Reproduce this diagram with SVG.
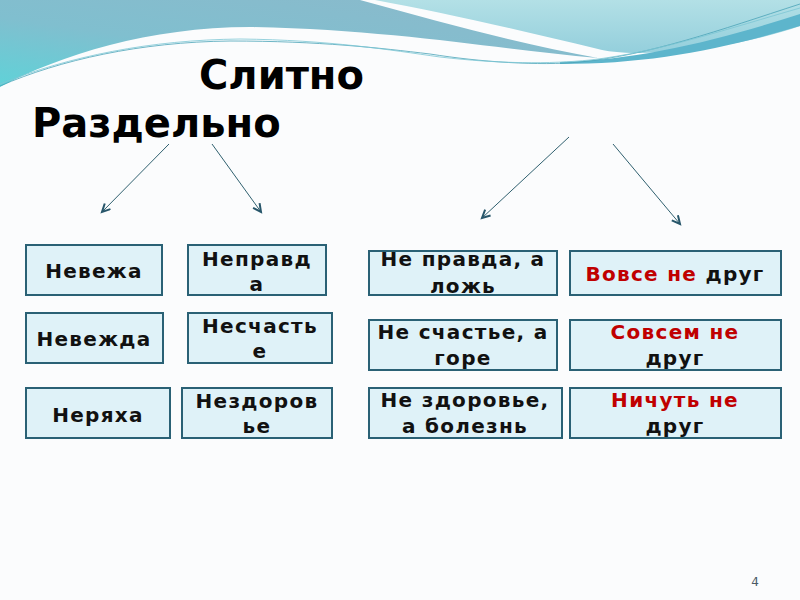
<svg xmlns="http://www.w3.org/2000/svg" width="800" height="600" viewBox="0 0 800 600">
<defs>
<linearGradient id="gBig" x1="1" y1="0" x2="0" y2="1">
<stop offset="0" stop-color="#8cb9cb"/>
<stop offset="0.6" stop-color="#80bfcf"/>
<stop offset="1" stop-color="#5fd2d8"/>
</linearGradient>
<linearGradient id="gRight" x1="0" y1="0" x2="0" y2="1">
<stop offset="0" stop-color="#b3e0e6"/>
<stop offset="1" stop-color="#94cfdc"/>
</linearGradient>
<marker id="arr" markerWidth="12" markerHeight="12" refX="9" refY="5" orient="auto" markerUnits="userSpaceOnUse">
<path d="M1,1 L9,5 L1,9" fill="none" stroke="#27566a" stroke-width="2"/>
</marker>
<style>
.box{fill:#dff2f8;stroke:#2a6175;stroke-width:2}
.t{font-family:"DejaVu Sans",Verdana,sans-serif;font-weight:bold;font-size:20px;fill:#111;text-anchor:middle;letter-spacing:1.3px}
.r{fill:#c00000}
.title{font-family:"DejaVu Sans",Verdana,sans-serif;font-weight:bold;font-size:40px;fill:#000}
.conn{stroke:#30606f;stroke-width:1;fill:none;marker-end:url(#arr)}
</style>
</defs>
<rect width="800" height="600" fill="#fbfcfd"/>
<g id="header">
<path d="M375,0 L800,0 L800,26 C760,40 700,52 640,53 C620,53 605,51 598,49 C520,30 440,12 375,0 Z" fill="url(#gRight)"/>
<path d="M0,0 L360,0 C440,22 520,44 598,58 C500,50 400,30 250,27 C150,27 60,55 0,87 Z" fill="url(#gBig)"/>
<path d="M560,62 C640,60 720,40 800,14 L800,26 C720,50 650,64 560,64 Z" fill="#5db5cc"/>
<path d="M0,86 C60,60 140,42 230,41 C320,41 380,48 430,54 C480,62 540,66 580,62 C650,55 720,30 800,4" fill="none" stroke="#4aa3b8" stroke-width="0.8"/>
<path d="M0,84 C70,56 150,40 240,39 C330,40 390,50 440,57 C500,64 550,64 590,60 C660,52 730,28 800,8" fill="none" stroke="#7cc6d4" stroke-width="0.8"/>
</g>
<g id="title">
<text class="title" x="199" y="89">Слитно</text>
<text class="title" x="32" y="137">Раздельно</text>
</g>
<g id="connectors">
<line class="conn" x1="169" y1="144" x2="102" y2="212"/>
<line class="conn" x1="212" y1="144" x2="261" y2="212"/>
<line class="conn" x1="569" y1="137" x2="482" y2="218"/>
<line class="conn" x1="613" y1="144" x2="680" y2="224"/>
</g>
<g id="n1"><rect class="box" x="26" y="245" width="136" height="50"/><text class="t" x="94" y="278">Невежа</text></g>
<g id="n2"><rect class="box" x="188" y="245" width="138" height="50"/><text class="t" x="257" y="266">Неправд</text><text class="t" x="257" y="291">а</text></g>
<g id="n3"><rect class="box" x="26" y="313" width="137" height="50"/><text class="t" x="94" y="346">Невежда</text></g>
<g id="n4"><rect class="box" x="188" y="313" width="144" height="50"/><text class="t" x="260" y="333">Несчасть</text><text class="t" x="260" y="358">е</text></g>
<g id="n5"><rect class="box" x="26" y="388" width="144" height="50"/><text class="t" x="98" y="422">Неряха</text></g>
<g id="n6"><rect class="box" x="182" y="388" width="150" height="50"/><text class="t" x="257" y="408">Нездоров</text><text class="t" x="257" y="433">ье</text></g>
<g id="n7"><rect class="box" x="369" y="251" width="188" height="44"/><text class="t" x="463" y="266">Не правда, а</text><text class="t" x="463" y="293">ложь</text></g>
<g id="n8"><rect class="box" x="570" y="251" width="211" height="44"/><text class="t" x="675" y="281"><tspan class="r">Вовсе не</tspan> друг</text></g>
<g id="n9"><rect class="box" x="369" y="320" width="188" height="50"/><text class="t" x="463" y="339">Не счастье, а</text><text class="t" x="463" y="365">горе</text></g>
<g id="n10"><rect class="box" x="570" y="320" width="211" height="50"/><text class="t r" x="675" y="339">Совсем не</text><text class="t" x="675" y="365">друг</text></g>
<g id="n11"><rect class="box" x="369" y="388" width="193" height="50"/><text class="t" x="465" y="407">Не здоровье,</text><text class="t" x="465" y="433">а болезнь</text></g>
<g id="n12"><rect class="box" x="570" y="388" width="211" height="50"/><text class="t r" x="675" y="407">Ничуть не</text><text class="t" x="675" y="433">друг</text></g>
<text x="755" y="586" font-family="DejaVu Sans, sans-serif" font-size="12" fill="#4a5a66" text-anchor="middle">4</text>
</svg>
